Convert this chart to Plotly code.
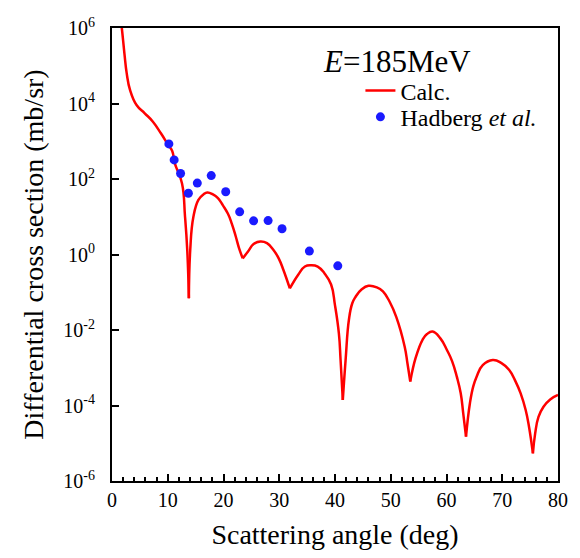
import plotly.graph_objects as go

# Calculated cross section
calc_angle = [1.5, 1.76, 2.23, 2.64, 3.23, 4.40, 5.87, 7.34, 8.80, 10.1, 10.8, 11.27, 12.55, 13.1, 13.5, 13.79,
              14.03, 14.6, 15.5, 16.4, 17.1, 18.1, 19.0, 19.9, 20.8, 21.5, 22.2, 22.8, 23.45,
              24.4, 25.4, 26.6, 27.8, 29.0, 29.9, 30.75, 31.9,
              33.4, 34.6, 35.7, 36.9, 38.1, 39.3, 40.0, 40.7, 41.0, 41.4,
              41.9, 42.5, 43.1, 43.7, 44.8, 46.0, 47.5, 48.6, 49.8, 51.0, 52.5, 53.0, 53.5,
              54.5, 55.7, 56.5, 57.5, 58.9, 60.1, 61.0, 61.85, 62.55, 63.0, 63.5,
              64.2, 64.8, 65.4, 66.5, 68.3, 69.8, 71.25, 72.4, 73.3, 74.2, 74.8, 75.5,
              75.9, 76.5, 77.4, 78.6, 80.0]
calc_value = [2.0e6, 1.0e6, 2.1e5, 6.3e4, 2.3e4, 9.1e3, 5.5e3, 3.3e3, 1.6e3, 7.9e2, 5.5e2, 2.6e2, 77, 10, 1.3, 0.069,
              1.3, 10, 28, 39, 44, 39, 31, 20, 12, 6.5, 3.0, 1.45, 0.79,
              1.2, 1.9, 2.2, 2.0, 1.3, 0.79, 0.39, 0.126,
              0.29, 0.48, 0.52, 0.48, 0.32, 0.16, 0.045, 8e-3, 1.6e-3, 1.4e-4,
              1.6e-3, 1.9e-2, 5.1e-2, 7.6e-2, 0.12, 0.148, 0.135, 0.105, 0.056, 0.022, 3.6e-3, 1.3e-3, 4.3e-4,
              1.9e-3, 5.5e-3, 7.8e-3, 9.1e-3, 6.0e-3, 2.9e-3, 1.5e-3, 5.8e-4, 2.1e-4, 6.2e-5, 1.5e-5,
              1.15e-4, 3.2e-4, 5.8e-4, 1.17e-3, 1.6e-3, 1.35e-3, 8.7e-4, 4.3e-4, 2.1e-4, 7.6e-5, 2.75e-5, 5.4e-6,
              1.8e-5, 5.0e-5, 9.3e-5, 1.45e-4, 1.9e-4]

# Experimental data (Hadberg et al.)
exp_angle = [10.2, 11.15, 12.3, 13.7, 15.3, 17.8, 20.4, 22.9, 25.4, 28.0, 30.5, 35.4, 40.5]
exp_value = [850, 320, 140, 42, 78, 123, 46, 13.5, 7.8, 7.9, 4.8, 1.23, 0.50]

x_ticks = [0, 10, 20, 30, 40, 50, 60, 70, 80]
y_exponents = [-6, -4, -2, 0, 2, 4, 6]

FONT = "Liberation Serif"
RED = "#ff0000"
BLUE = "#1a1aff"

fig = go.Figure()

# split the curve at its sharp minima so each arch is smoothed but cusps stay sharp
mins = [i for i in range(1, len(calc_value) - 1)
        if calc_value[i] < calc_value[i - 1] and calc_value[i] < calc_value[i + 1]]
bounds = [0] + mins + [len(calc_value) - 1]
for k in range(len(bounds) - 1):
    a, b = bounds[k], bounds[k + 1]
    fig.add_trace(go.Scatter(
        x=calc_angle[a:b + 1], y=calc_value[a:b + 1], mode="lines",
        line=dict(color=RED, width=2.5, shape="spline", smoothing=1.3),
        name="Calc.", legendgroup="calc", showlegend=(k == 0), legend="legend",
    ))

fig.add_trace(go.Scatter(
    x=exp_angle, y=exp_value, mode="markers",
    marker=dict(color=BLUE, size=9),
    name="Hadberg <i>et al.</i>", legend="legend2",
))

fig.add_annotation(
    text="<i>E</i>=185MeV", xref="paper", yref="paper", x=0.469, y=0.927,
    xanchor="left", yanchor="middle", showarrow=False,
    font=dict(family=FONT, size=31, color="black"),
)

legend_style = dict(xanchor="left", yanchor="middle", bgcolor="rgba(0,0,0,0)",
                    font=dict(family=FONT, size=24, color="black"), itemwidth=30)

fig.update_layout(
    width=580, height=558,
    margin=dict(l=112, r=14, t=28, b=77),
    paper_bgcolor="white", plot_bgcolor="white",
    font=dict(family=FONT, color="black"),
    showlegend=True,
    legend=dict(x=0.557, y=0.861, **legend_style),
    legend2=dict(x=0.557, y=0.803, **legend_style),
    xaxis=dict(
        range=[0, 80], tickvals=x_ticks, ticktext=[str(v) for v in x_ticks],
        ticks="inside", ticklen=7, tickwidth=1.5, tickcolor="black",
        minor=dict(dtick=2, ticks="inside", ticklen=4, tickwidth=1.5, tickcolor="black"),
        showline=True, linecolor="black", linewidth=2, mirror=True,
        showgrid=False, zeroline=False,
        tickfont=dict(family=FONT, size=20, color="black"),
        title=dict(text="Scattering angle (deg)", font=dict(family=FONT, size=28, color="black"), standoff=14),
    ),
    yaxis=dict(
        type="log", range=[-6, 6],
        tickvals=[10 ** e for e in y_exponents],
        ticktext=["10<sup>%d</sup>" % e for e in y_exponents],
        ticks="inside", ticklen=7, tickwidth=1.5, tickcolor="black",
        ticklabelstandoff=11,
        showline=True, linecolor="black", linewidth=2, mirror=True,
        showgrid=False, zeroline=False,
        tickfont=dict(family=FONT, size=20, color="black"),
        title=dict(text="Differential cross section (mb/sr)", font=dict(family=FONT, size=28, color="black"), standoff=12),
    ),
)

fig.write_html("out.html")
